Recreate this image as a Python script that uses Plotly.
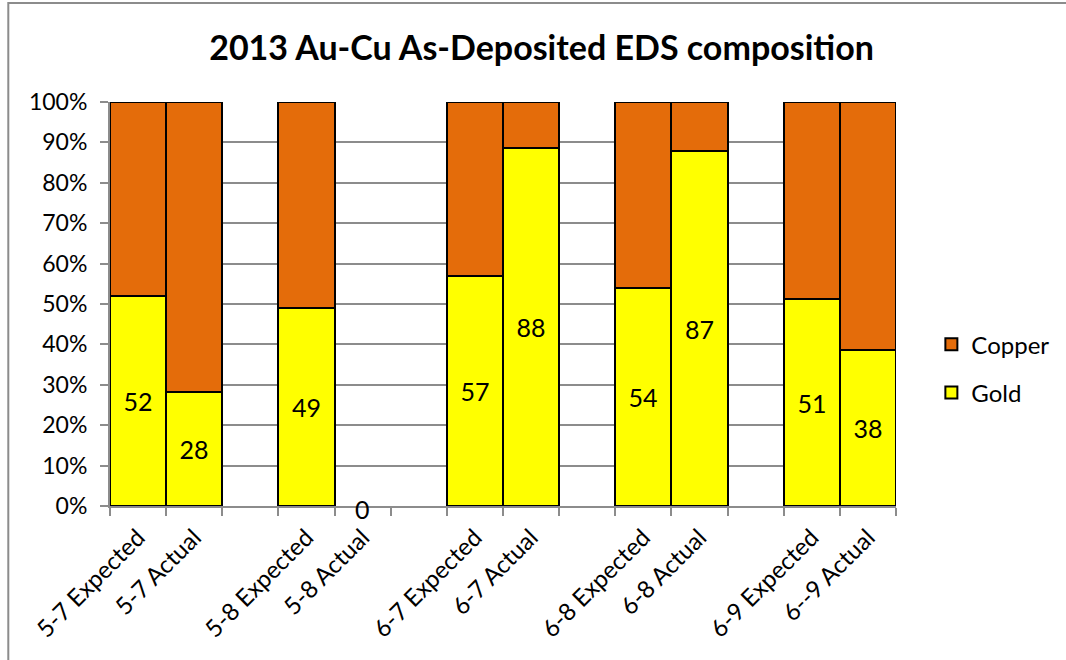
import plotly.graph_objects as go

# Sample labels; empty strings are spacer slots between the sample pairs
labels = ["5-7 Expected", "5-7 Actual", "",
          "5-8 Expected", "5-8 Actual", "",
          "6-7 Expected", "6-7 Actual", "",
          "6-8 Expected", "6-8 Actual", "",
          "6-9 Expected", "6--9 Actual"]

# Measured atomic composition (each column is normalised to 100%)
gold = [52, 28, None, 49, 0, None, 57, 88, None, 54, 87, None, 51, 38]
copper = [48, 71, None, 51, 0, None, 43, 11.2, None, 46, 12.1, None, 48.6, 60.6]

x = list(range(len(labels)))
FONT = "Lato, Carlito, Calibri, sans-serif"
GRID = "#8c8c8c"

gold_text = ["" if (v is None or v == 0) else f"{v:g}" for v in gold]

fig = go.Figure()
fig.add_trace(go.Bar(
    x=x, y=gold, name="Gold", legendgroup="g", legendrank=2,
    marker=dict(color="#FFFF00", line=dict(color="black", width=2)),
    text=gold_text, textposition="inside", insidetextanchor="middle",
    textangle=0, constraintext="none",
    textfont=dict(family=FONT, size=25, color="black"),
    hoverinfo="skip",
))
fig.add_trace(go.Bar(
    x=x, y=copper, name="Copper", legendgroup="c", legendrank=1,
    marker=dict(color="#E46C0A", line=dict(color="black", width=2)),
    hoverinfo="skip",
))

# Labels for columns with no measurable composition sit on the baseline
zero_labels = [
    dict(x=xi, y=0, xref="x", yref="y", text=f"{v:g}", showarrow=False,
         xanchor="center", yanchor="middle", yshift=-3,
         font=dict(family=FONT, size=25, color="black"))
    for xi, v in zip(x, gold) if v == 0
]

fig.update_layout(
    width=1066, height=660,
    paper_bgcolor="white", plot_bgcolor="white",
    margin=dict(l=110, r=160, t=102, b=154),
    barmode="stack", barnorm="percent", bargap=0,
    title=dict(text="<b>2013 Au-Cu As-Deposited EDS composition</b>",
               x=0.508, xanchor="center", y=0.927, yanchor="middle",
               font=dict(family=FONT, size=34, color="black")),
    legend=dict(x=1.045, xanchor="left", y=0.34, yanchor="middle",
                traceorder="grouped", tracegroupgap=14,
                font=dict(family=FONT, size=24, color="black"),
                bgcolor="rgba(0,0,0,0)"),
    font=dict(family=FONT, size=24, color="black"),
    xaxis=dict(
        range=[-0.5, len(labels) - 0.5], tickmode="array",
        tickvals=x, ticktext=labels, tickangle=-45, ticks="",
        ticklabelstandoff=6,
        tickfont=dict(family=FONT, size=24, color="black"),
        showgrid=False, zeroline=False,
        showline=True, linecolor=GRID, linewidth=2,
        minor=dict(tick0=-0.5, dtick=1, ticks="outside", ticklen=8,
                   tickcolor=GRID, tickwidth=2, showgrid=False),
    ),
    yaxis=dict(
        range=[0, 100], tick0=0, dtick=10, ticksuffix="%",
        ticks="outside", ticklen=8, tickcolor=GRID, tickwidth=2,
        ticklabelstandoff=8,
        tickfont=dict(family=FONT, size=23, color="black"),
        showgrid=True, gridcolor=GRID, gridwidth=2,
        zeroline=False, showline=True, linecolor=GRID, linewidth=2,
    ),
    annotations=zero_labels,
    shapes=[dict(type="rect", xref="paper", yref="paper",
                 x0=-103 / 796, x1=1.5, y0=-1.0, y1=503 / 404,
                 line=dict(color="#8c8c8c", width=2), fillcolor="rgba(0,0,0,0)",
                 layer="below")],
)

fig.write_html("out.html")
